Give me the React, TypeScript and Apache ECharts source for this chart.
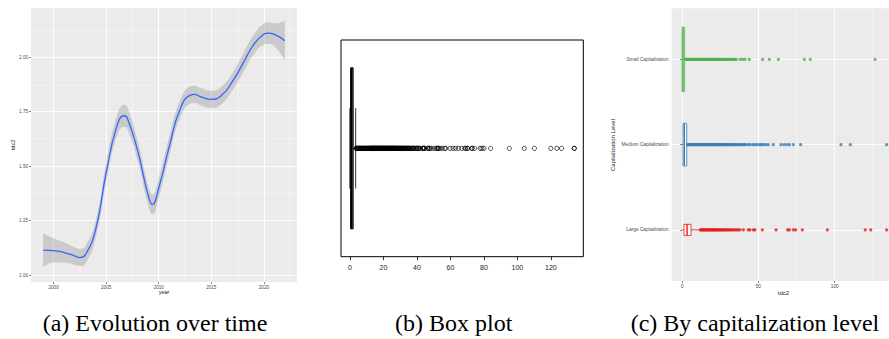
import React, { useEffect, useRef } from "react";
import * as echarts from "echarts";

// ---------- Panel (a): smoothed tdc2 over time ----------
const yearsA = [1999, 2000, 2001, 2002, 2002.5, 2003, 2004, 2005, 2006, 2006.7, 2007, 2008, 2009, 2009.4, 2010, 2011, 2012, 2013, 2013.4, 2014, 2015, 2016, 2017, 2018, 2019, 2020, 2020.4, 2021, 2022];
const fitA = [1.115, 1.113, 1.104, 1.089, 1.081, 1.092, 1.21, 1.47, 1.68, 1.731, 1.722, 1.57, 1.365, 1.324, 1.4, 1.59, 1.757, 1.826, 1.829, 1.818, 1.806, 1.826, 1.887, 1.97, 2.055, 2.105, 2.11, 2.104, 2.075];
const upperA = [1.192, 1.168, 1.15, 1.128, 1.121, 1.132, 1.25, 1.515, 1.728, 1.782, 1.772, 1.615, 1.41, 1.37, 1.445, 1.635, 1.797, 1.866, 1.869, 1.858, 1.846, 1.866, 1.927, 2.012, 2.1, 2.153, 2.158, 2.155, 2.167];
const lowerA = [1.036, 1.058, 1.058, 1.048, 1.042, 1.052, 1.17, 1.425, 1.632, 1.68, 1.672, 1.525, 1.32, 1.279, 1.355, 1.545, 1.717, 1.786, 1.789, 1.778, 1.766, 1.786, 1.847, 1.928, 2.01, 2.057, 2.06, 2.05, 1.985];
const yearTicks = [2000, 2005, 2010, 2015, 2020];
const yearMinor = [2002.5, 2007.5, 2012.5, 2017.5, 2022.5];
const tdcTicksA = [1.0, 1.25, 1.5, 1.75, 2.0];
const tdcMinorA = [1.125, 1.375, 1.625, 1.875, 2.125];

// ---------- Panel (c): by capitalization level ----------
const capLevels = ["Large Capitalization", "Medium Capitalization", "Small Capitalization"];
// [lower whisker, Q1, median, Q3, upper whisker]
const summaryLarge = [0.2, 1.3, 3.3, 5.9, 11.8];
const summaryMedium = [0, 0.65, 1.5, 3.1, 3.5];
const summarySmall = [0, 0.1, 0.7, 1.7, 2.1];
const outliersSmall = [2.2, 2.7, 3.3, 3.8, 4.4, 4.9, 5.5, 6.0, 6.6, 7.1, 7.7, 8.3, 8.8, 9.4, 9.9, 10.5, 11.1, 11.6, 12.2, 12.8, 13.3, 13.9, 14.5, 15.0, 15.6, 16.2, 16.8, 17.3, 17.9, 18.5, 19.1, 19.7, 20.3, 20.9, 21.5, 22.1, 22.7, 23.4, 24.0, 24.7, 25.3, 26.0, 26.7, 27.4, 28.1, 28.9, 29.6, 30.4, 31.2, 32.1, 32.9, 33.8, 34.7, 35.5, 38.0, 39.7, 41.3, 44.1, 52.8, 57.2, 63.1, 80.1, 84.0, 126.4];
const outliersMedium = [3.6, 4.1, 4.7, 5.2, 5.8, 6.3, 6.9, 7.4, 8.0, 8.6, 9.1, 9.7, 10.2, 10.8, 11.4, 11.9, 12.5, 13.0, 13.6, 14.2, 14.7, 15.3, 15.8, 16.4, 17.0, 17.5, 18.1, 18.7, 19.2, 19.8, 20.4, 20.9, 21.5, 22.1, 22.6, 23.2, 23.8, 24.4, 25.0, 25.6, 26.2, 26.8, 27.4, 28.0, 28.7, 29.3, 30.0, 30.6, 31.3, 32.0, 32.7, 33.4, 34.2, 35.0, 35.8, 36.6, 37.5, 38.4, 39.3, 40.2, 41.1, 42.0, 43.5, 44.5, 46.3, 47.5, 48.9, 50.5, 51.6, 52.2, 53.7, 55.0, 56.5, 59.8, 64.8, 66.8, 68.6, 70.3, 72.9, 77.7, 104.1, 110.2, 134.0];
const outliersLarge = [12.0, 12.6, 13.1, 13.7, 14.3, 14.8, 15.4, 16.0, 16.5, 17.1, 17.7, 18.2, 18.8, 19.4, 20.0, 20.6, 21.2, 21.8, 22.4, 23.0, 23.6, 24.2, 24.9, 25.5, 26.2, 26.9, 27.6, 28.3, 29.0, 29.8, 30.6, 31.4, 32.2, 33.1, 34.0, 34.9, 35.9, 36.9, 38.0, 40.2, 43.4, 44.5, 46.7, 47.8, 52.6, 61.6, 69.2, 70.3, 72.9, 74.4, 78.8, 95.2, 120.0, 123.6, 134.0];
const tdcTicksC = [0, 50, 100];
const tdcMinorC = [25, 75, 125];

// ---------- Panel (b): overall box plot ----------
const summaryAll = [0, 0.4, 1.0, 1.9, 3.4];
const boxTicksB = [0, 20, 40, 60, 80, 100, 120];

// styles
const CAP_COLORS = ["#E41A1C", "#377EB8", "#4DAF4A"]; // large, medium, small
const CAP_BOX_WIDTH = [0.13, 0.498, 0.756];
const SANS = "Liberation Sans";
const SERIF = "Liberation Serif";
const LABEL_COLOR = "#4D4D4D";
const TICK_COLOR = "#333333";

export default function App() {
  const ref = useRef<HTMLDivElement>(null);

  useEffect(() => {
    if (!ref.current) return;
    const chart = echarts.init(ref.current, undefined, { renderer: "svg" });

    const bandDiff = upperA.map((u, i) => u - lowerA[i]);
    const outliersAll = [...outliersSmall, ...outliersMedium, ...outliersLarge]
      .filter((v) => v > summaryAll[4])
      .sort((a, b) => a - b);

    const tickStyle = { color: TICK_COLOR, width: 0.6 };
    const white = (w: number) => ({ show: true, lineStyle: { color: "#FFFFFF", width: w } });

    const option: any = {
      animation: false,
      backgroundColor: "#FFFFFF",
      grid: [
        { left: 31, top: 8, width: 266, height: 274, show: true, backgroundColor: "#EBEBEB", borderWidth: 0, borderColor: "transparent", outerBoundsMode: "none" },
        { left: 341, top: 40, width: 242.3, height: 216.7, show: true, backgroundColor: "#FFFFFF", borderWidth: 1, borderColor: "#000000", outerBoundsMode: "none" },
        { left: 671.7, top: 8.3, right: 0, height: 272.7, show: true, backgroundColor: "#EBEBEB", borderWidth: 0, borderColor: "transparent", outerBoundsMode: "none" },
      ],
      xAxis: [
        {
          gridIndex: 0, type: "value", min: 1997.85, max: 2023.15,
          axisLine: { show: false },
          axisTick: { show: true, length: 2, lineStyle: tickStyle, customValues: yearTicks },
          axisLabel: { customValues: yearTicks, margin: 2.5, fontSize: 4.6, color: LABEL_COLOR, fontFamily: SANS, formatter: (v: number) => String(v) },
          splitLine: white(0.9),
        },
        {
          gridIndex: 0, type: "value", position: "top", min: 1997.85, max: 2023.15,
          axisLine: { show: false },
          axisTick: { show: false, customValues: yearMinor },
          axisLabel: { show: false, customValues: yearMinor },
          splitLine: white(0.45),
        },
        {
          gridIndex: 1, type: "value", min: -5.36, max: 139.4,
          axisLine: { show: false },
          axisTick: { show: true, length: 3.5, lineStyle: { color: "#000", width: 0.8 }, customValues: boxTicksB },
          axisLabel: { customValues: boxTicksB, margin: 7, fontSize: 7, color: "#222", fontFamily: SANS, formatter: (v: number) => String(v) },
          splitLine: { show: false },
        },
        {
          gridIndex: 2, type: "value", min: -6.75, max: 135.55,
          axisLine: { show: false },
          axisTick: { show: true, length: 2, lineStyle: tickStyle, customValues: tdcTicksC },
          axisLabel: { customValues: tdcTicksC, margin: 3, fontSize: 4.8, color: LABEL_COLOR, fontFamily: SANS, formatter: (v: number) => String(v) },
          splitLine: white(0.9),
        },
        {
          gridIndex: 2, type: "value", position: "top", min: -6.75, max: 135.55,
          axisLine: { show: false },
          axisTick: { show: false, customValues: tdcMinorC },
          axisLabel: { show: false, customValues: tdcMinorC },
          splitLine: white(0.45),
        },
      ],
      yAxis: [
        {
          gridIndex: 0, type: "value", min: 0.969, max: 2.225,
          axisLine: { show: false },
          axisTick: { show: true, length: 2, lineStyle: tickStyle, customValues: tdcTicksA },
          axisLabel: { customValues: tdcTicksA, margin: 3, fontSize: 4.6, color: LABEL_COLOR, fontFamily: SANS, formatter: (v: number) => v.toFixed(2) },
          splitLine: white(0.9),
        },
        {
          gridIndex: 0, type: "value", position: "right", min: 0.969, max: 2.225,
          axisLine: { show: false },
          axisTick: { show: false, customValues: tdcMinorA },
          axisLabel: { show: false, customValues: tdcMinorA },
          splitLine: white(0.45),
        },
        {
          gridIndex: 1, type: "value", min: 0.5, max: 1.5, show: false,
          splitLine: { show: false },
        },
        {
          gridIndex: 2, type: "value", min: 0.4, max: 3.6,
          axisLine: { show: false },
          axisTick: { show: true, length: 2, lineStyle: tickStyle, customValues: [1, 2, 3] },
          axisLabel: { customValues: [1, 2, 3], margin: 3, fontSize: 4.8, color: LABEL_COLOR, fontFamily: SANS, formatter: (v: number) => capLevels[Math.round(v) - 1] },
          splitLine: white(0.9),
        },
      ],
      series: [
        // (a) confidence band: value column first so stacking applies to y
        {
          type: "line", xAxisIndex: 0, yAxisIndex: 0, stack: "ci", smooth: true, symbol: "none", silent: true,
          data: yearsA.map((y, i) => [lowerA[i], y]),
          encode: { x: 1, y: 0 },
          lineStyle: { opacity: 0 },
        },
        {
          type: "line", xAxisIndex: 0, yAxisIndex: 0, stack: "ci", smooth: true, symbol: "none", silent: true,
          data: yearsA.map((y, i) => [bandDiff[i], y]),
          encode: { x: 1, y: 0 },
          lineStyle: { opacity: 0 },
          areaStyle: { color: "#999999", opacity: 0.4 },
        },
        {
          type: "line", xAxisIndex: 0, yAxisIndex: 0, smooth: true, symbol: "none", silent: true,
          data: yearsA.map((y, i) => [y, fitA[i]]),
          lineStyle: { color: "#3366FF", width: 1.3 },
        },
        // (b) outliers
        {
          type: "scatter", xAxisIndex: 2, yAxisIndex: 2, silent: true,
          symbol: "circle", symbolSize: 4.2,
          data: outliersAll.map((v) => [v, 1]),
          itemStyle: { color: "transparent", borderColor: "#000000", borderWidth: 0.9 },
        },
        // (b) box
        {
          type: "custom", xAxisIndex: 2, yAxisIndex: 2, silent: true,
          data: [[1, ...summaryAll]],
          encode: { y: 0, x: [1, 2, 3, 4, 5] },
          renderItem: (params: any, api: any) => {
            const y = api.value(0);
            const lw = api.coord([api.value(1), y]);
            const q1 = api.coord([api.value(2), y]);
            const md = api.coord([api.value(3), y]);
            const q3 = api.coord([api.value(4), y]);
            const uw = api.coord([api.value(5), y]);
            const half = api.size([0, 0.743])[1] / 2;
            const staple = half / 2;
            const stroke = { stroke: "#000000", lineWidth: 1, fill: "none" };
            return {
              type: "group",
              children: [
                { type: "line", shape: { x1: lw[0], y1: lw[1], x2: q1[0], y2: q1[1] }, style: { ...stroke, lineDash: [2, 2] } },
                { type: "line", shape: { x1: q3[0], y1: q3[1], x2: uw[0], y2: uw[1] }, style: { ...stroke, lineDash: [2, 2] } },
                { type: "line", shape: { x1: lw[0], y1: lw[1] - staple, x2: lw[0], y2: lw[1] + staple }, style: stroke },
                { type: "line", shape: { x1: uw[0], y1: uw[1] - staple, x2: uw[0], y2: uw[1] + staple }, style: { ...stroke, lineWidth: 0.8 } },
                { type: "rect", shape: { x: q1[0], y: q1[1] - half, width: q3[0] - q1[0], height: half * 2 }, style: { ...stroke, fill: "#FFFFFF" } },
                { type: "line", shape: { x1: md[0], y1: md[1] - half, x2: md[0], y2: md[1] + half }, style: { ...stroke, lineWidth: 2.2 } },
              ],
            };
          },
        },
        // (c) outliers
        ...[outliersLarge, outliersMedium, outliersSmall].map((arr, gi) => ({
          type: "scatter", xAxisIndex: 3, yAxisIndex: 3, silent: true,
          symbol: "circle", symbolSize: 3.3,
          data: arr.map((v) => [v, gi + 1]),
          itemStyle: { color: CAP_COLORS[gi] },
        })),
        // (c) boxes
        {
          type: "custom", xAxisIndex: 3, yAxisIndex: 3, silent: true,
          data: [[1, ...summaryLarge], [2, ...summaryMedium], [3, ...summarySmall]],
          encode: { y: 0, x: [1, 2, 3, 4, 5] },
          renderItem: (params: any, api: any) => {
            const gi = params.dataIndex;
            const color = CAP_COLORS[gi];
            const y = api.value(0);
            const lw = api.coord([api.value(1), y]);
            const q1 = api.coord([api.value(2), y]);
            const md = api.coord([api.value(3), y]);
            const q3 = api.coord([api.value(4), y]);
            const uw = api.coord([api.value(5), y]);
            const half = api.size([0, CAP_BOX_WIDTH[gi]])[1] / 2;
            const stroke = { stroke: color, lineWidth: 0.8, fill: "none" };
            return {
              type: "group",
              children: [
                { type: "line", shape: { x1: lw[0], y1: lw[1], x2: q1[0], y2: q1[1] }, style: stroke },
                { type: "line", shape: { x1: q3[0], y1: q3[1], x2: uw[0], y2: uw[1] }, style: stroke },
                { type: "rect", shape: { x: q1[0], y: q1[1] - half, width: q3[0] - q1[0], height: half * 2 }, style: { ...stroke, fill: "#FFFFFF" } },
                { type: "line", shape: { x1: md[0], y1: md[1] - half, x2: md[0], y2: md[1] + half }, style: { ...stroke, lineWidth: 1.4 } },
              ],
            };
          },
        },
      ],
      graphic: [
        { type: "text", x: 13, y: 145, rotation: Math.PI / 2, silent: true, style: { text: "tdc2", fontSize: 5.5, fontFamily: SANS, fill: "#222", align: "center", verticalAlign: "middle" } },
        { type: "text", x: 164, y: 292, silent: true, style: { text: "year", fontSize: 5.5, fontFamily: SANS, fill: "#222", align: "center", verticalAlign: "middle" } },
        { type: "text", x: 612.7, y: 145, rotation: Math.PI / 2, silent: true, style: { text: "Capitalization Level", fontSize: 6, fontFamily: SANS, fill: "#222", align: "center", verticalAlign: "middle" } },
        { type: "text", x: 783.5, y: 292.7, silent: true, style: { text: "tdc2", fontSize: 6, fontFamily: SANS, fill: "#222", align: "center", verticalAlign: "middle" } },
        { type: "text", x: 42.7, y: 323, silent: true, style: { text: "(a) Evolution over time", fontSize: 24, fontFamily: SERIF, fill: "#000", align: "left", verticalAlign: "middle" } },
        { type: "text", x: 395, y: 323, silent: true, style: { text: "(b) Box plot", fontSize: 24, fontFamily: SERIF, fill: "#000", align: "left", verticalAlign: "middle" } },
        { type: "text", x: 630.7, y: 323, silent: true, style: { text: "(c) By capitalization level", fontSize: 24, fontFamily: SERIF, fill: "#000", align: "left", verticalAlign: "middle" } },
      ],
    };

    chart.setOption(option);
    return () => chart.dispose();
  }, []);

  return (
    <div
      ref={ref}
      style={{ position: "absolute", left: 0, top: 0, width: 889, height: 339, background: "#FFFFFF" }}
    />
  );
}
